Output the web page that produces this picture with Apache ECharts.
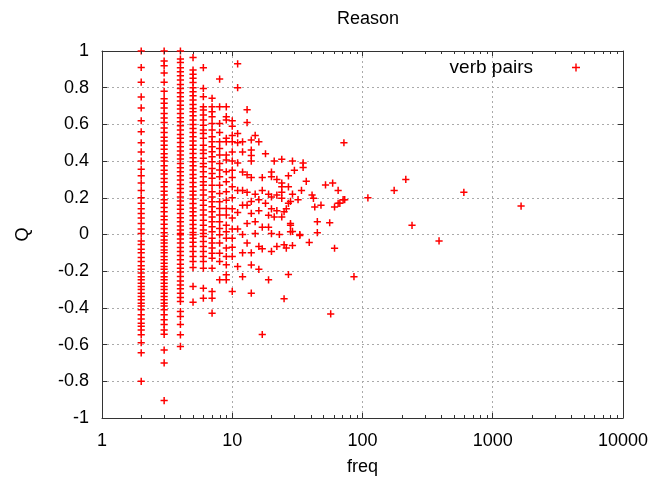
<!DOCTYPE html>
<html>
<head>
<meta charset="utf-8">
<script src="https://cdn.jsdelivr.net/npm/echarts@6/dist/echarts.min.js"></script>
<style>html,body{margin:0;padding:0;background:#fff}#chart{width:653px;height:485px}</style>
</head>
<body>
<div id="chart"></div>
<script>
// Q values for the low-frequency columns (freq = 2..10)
const q2 = [1.0,0.91,0.83,0.75,0.69,0.62,0.56,0.50,0.45,0.40,0.355,0.32,0.28,0.24,0.20,0.17,0.14,0.115,0.09,0.06,0.03,0.005,-0.035,-0.055,-0.08,-0.10,-0.125,-0.147,-0.17,-0.19,-0.21,-0.23,-0.247,-0.265,-0.283,-0.30,-0.32,-0.338,-0.356,-0.374,-0.39,-0.41,-0.438,-0.46,-0.483,-0.50,-0.52,-0.547,-0.59,-0.645,-0.80];
const q3 = [1.0,0.945,0.92,0.88,0.83,0.78,0.74,0.715,0.69,0.66,0.635,0.61,0.58,0.556,0.53,0.51,0.487,0.465,0.44,0.42,0.40,0.375,0.35,0.33,0.305,0.285,0.26,0.236,0.215,0.19,0.17,0.147,0.124,0.10,0.08,0.056,0.033,0.01,-0.01,-0.03,-0.047,-0.065,-0.084,-0.10,-0.12,-0.138,-0.156,-0.174,-0.19,-0.21,-0.23,-0.247,-0.265,-0.283,-0.30,-0.32,-0.338,-0.356,-0.374,-0.39,-0.41,-0.438,-0.465,-0.49,-0.52,-0.544,-0.63,-0.70,-0.905];
const q4 = [1.0,0.956,0.938,0.909,0.887,0.865,0.842,0.818,0.796,0.773,0.751,0.727,0.705,0.684,0.66,0.636,0.615,0.593,0.569,0.545,0.524,0.502,0.478,0.455,0.433,0.411,0.387,0.364,0.342,0.32,0.297,0.273,0.251,0.229,0.205,0.182,0.16,0.138,0.115,0.091,0.069,0.047,0.024,0.006,-0.002,-0.024,-0.047,-0.071,-0.093,-0.114,-0.138,-0.162,-0.184,-0.205,-0.229,-0.253,-0.275,-0.296,-0.32,-0.343,-0.365,-0.42,-0.447,-0.49,-0.547,-0.61];
const q5 = [0.964,0.896,0.873,0.851,0.829,0.80,0.778,0.756,0.733,0.709,0.687,0.669,0.647,0.624,0.60,0.578,0.556,0.533,0.509,0.487,0.465,0.442,0.418,0.396,0.374,0.351,0.327,0.306,0.284,0.26,0.236,0.215,0.193,0.169,0.145,0.124,0.102,0.078,0.055,0.033,0.011,-0.002,-0.02,-0.042,-0.065,-0.093,-0.12,-0.147,-0.18,-0.283,-0.369];
const q6 = [0.909,0.796,0.751,0.696,0.678,0.651,0.624,0.596,0.569,0.551,0.524,0.487,0.46,0.442,0.415,0.387,0.369,0.342,0.315,0.287,0.269,0.242,0.215,0.187,0.16,0.133,0.106,0.078,0.051,0.024,0.006,-0.011,-0.038,-0.065,-0.093,-0.12,-0.147,-0.184,-0.293,-0.347];
const q7 = [0.742,0.696,0.669,0.642,0.605,0.569,0.533,0.505,0.478,0.451,0.424,0.396,0.36,0.333,0.306,0.269,0.233,0.205,0.178,0.151,0.124,0.096,0.069,0.042,0.015,-0.02,-0.047,-0.074,-0.102,-0.129,-0.184,-0.311,-0.347,-0.429];
const q8 = [0.847,0.696,0.605,0.556,0.505,0.469,0.433,0.387,0.351,0.315,0.269,0.224,0.178,0.142,0.106,0.069,0.033,-0.002,-0.047,-0.102,-0.147,-0.247];
const q9 = [0.696,0.642,0.624,0.524,0.505,0.433,0.406,0.342,0.287,0.233,0.187,0.142,0.106,0.051,0.015,-0.02,-0.074,-0.12,-0.165,-0.22,-0.247];
const q10 = [0.62,0.59,0.54,0.505,0.45,0.40,0.35,0.31,0.26,0.20,0.14,0.09,0.03,-0.02,-0.07,-0.12,-0.31];

// Scattered higher-frequency points
const scatterFreq = [11,11,13,13,11,12,11,15,14,16,12,14,14,14,11,18,21,24,29,35,35,37,52,59,65,71,72,30,27,24,20,12,13,14,17,20,22,24,27,29,34,41,42,43,48,61,65,67,73,11,12,13,15,17,19,20,22,24,24,27,28,32,26,25,22,20,18,16,14,13,12,11,14,16,19,21,24,28,28,28,33,45,56,45,13,15,17,19,15,20,23,12,11,29,33,39,61,13,16,17,20,22,25,26,29,12,14,11,14,16,12,19,27,14,25,86,57,17,110,175,215,240,387,600,1650];
const scatterQ = [0.93,0.80,0.68,0.61,0.55,0.505,0.50,0.54,0.515,0.505,0.45,0.46,0.43,0.40,0.39,0.44,0.40,0.41,0.40,0.39,0.365,0.29,0.27,0.28,0.24,0.19,0.50,0.35,0.32,0.28,0.34,0.34,0.325,0.31,0.31,0.315,0.30,0.26,0.26,0.22,0.24,0.215,0.197,0.15,0.16,0.15,0.17,0.17,0.19,0.24,0.24,0.23,0.22,0.24,0.22,0.205,0.215,0.23,0.197,0.17,0.18,0.19,0.14,0.124,0.13,0.14,0.17,0.19,0.18,0.16,0.16,0.12,0.115,0.13,0.105,0.096,0.096,0.06,0.05,0.015,0.0,0.07,0.064,0.01,0.06,0.07,0.04,0.04,0.005,0.005,0.0,0.0,0.03,0.017,-0.005,-0.043,-0.075,-0.047,-0.065,-0.078,-0.092,-0.065,-0.056,-0.074,-0.06,-0.10,-0.10,-0.175,-0.166,-0.19,-0.23,-0.247,-0.218,-0.32,-0.35,-0.23,-0.433,-0.545,0.20,0.24,0.30,0.05,-0.035,0.23,0.155];

const xTickLabels = ['1','10','100','1000','10000'];
const minorDecades = [1,10,100,1000];

const columns = [[2,q2],[3,q3],[4,q4],[5,q5],[6,q6],[7,q7],[8,q8],[9,q9],[10,q10]];
const points = [];
columns.forEach(([f, arr]) => arr.forEach(q => points.push([f, q])));
scatterFreq.forEach((f, i) => points.push([f, scatterQ[i]]));

const minorTicks = [];
minorDecades.forEach(d => { for (let k = 2; k <= 9; k++) minorTicks.push([k * d, 0]); });

const FONT = 'Liberation Sans, Arial, sans-serif';
const FS = 18;
const AX = '#333';
const RED = '#ff0000';
const plus = 'path://M-0.18,-1L0.18,-1L0.18,-0.18L1,-0.18L1,0.18L0.18,0.18L0.18,1L-0.18,1L-0.18,0.18L-1,0.18L-1,-0.18L-0.18,-0.18Z';

const chart = echarts.init(document.getElementById('chart'), null, {renderer: 'canvas'});
const baseX = {
  type: 'log', logBase: 10, min: 1, max: 10000,
  axisLine: {show: true, onZero: false, lineStyle: {color: AX, width: 1}},
  axisTick: {show: true, inside: true, length: 5, lineStyle: {color: AX}}
};
const baseY = {
  type: 'value', min: -1, max: 1, interval: 0.2,
  axisLine: {show: true, onZero: false, lineStyle: {color: AX, width: 1}},
  axisTick: {show: true, inside: true, length: 5, lineStyle: {color: AX}}
};
chart.setOption({
  animation: false,
  backgroundColor: '#fff',
  title: {
    text: 'Reason', left: 363, top: 5, textAlign: 'center',
    textStyle: {fontSize: FS, fontWeight: 'normal', color: '#000', fontFamily: FONT}
  },
  legend: {
    data: [{name: 'verb pairs', icon: plus}], right: 73, top: 58, align: 'right', padding: 0,
    itemWidth: 8, itemHeight: 8,
    itemStyle: {color: RED},
    textStyle: {fontSize: 19, color: '#000', fontFamily: FONT, padding: [0, 34, 0, 0]}
  },
  grid: {left: 102, right: 30, top: 51, bottom: 67, containLabel: false},
  xAxis: [
    Object.assign({}, baseX, {
      position: 'bottom',
      axisLabel: {
        color: '#000', fontSize: FS, fontFamily: FONT, margin: 14,
        formatter: v => xTickLabels[Math.round(Math.log10(v))] || ''
      },
      splitLine: {show: true, lineStyle: {color: '#aaa', width: 1, type: [2, 3]}},
      name: 'freq', nameLocation: 'middle', nameGap: 40,
      nameTextStyle: {fontSize: FS, color: '#000', fontFamily: FONT}
    }),
    Object.assign({}, baseX, {
      position: 'top', axisLabel: {show: false}, splitLine: {show: false}
    })
  ],
  yAxis: [
    Object.assign({}, baseY, {
      position: 'left',
      axisLabel: {
        color: '#000', fontSize: FS, fontFamily: FONT, margin: 13,
        formatter: v => String(Number(v.toFixed(1)))
      },
      splitLine: {show: true, lineStyle: {color: '#aaa', width: 1, type: [2, 3]}},
      name: 'Q', nameLocation: 'middle', nameGap: 70, nameRotate: 90,
      nameTextStyle: {fontSize: FS, color: '#000', fontFamily: FONT}
    }),
    Object.assign({}, baseY, {
      position: 'right', axisLabel: {show: false}, splitLine: {show: false}
    })
  ],
  series: [
    {
      name: 'verb pairs', type: 'custom', xAxisIndex: 0, yAxisIndex: 0,
      silent: true, clip: false, z: 3,
      itemStyle: {color: RED},
      encode: {x: 0, y: 1},
      data: points,
      renderItem: (params, api) => {
        const c = api.coord([api.value(0), api.value(1)]);
        const cx = c[0], cy = c[1], h = 3.6;
        return {
          type: 'path',
          shape: {
            pathData: 'M' + (cx - h) + ',' + cy + 'L' + (cx + h) + ',' + cy +
                      'M' + cx + ',' + (cy - h) + 'L' + cx + ',' + (cy + h)
          },
          style: {stroke: RED, lineWidth: 1.5, fill: 'none'}
        };
      }
    },
    {
      name: 'minorTicks', type: 'custom', xAxisIndex: 0, yAxisIndex: 0,
      silent: true, clip: false, z: 4,
      encode: {x: 0, y: 1},
      data: minorTicks,
      renderItem: (params, api) => {
        const v = api.value(0);
        const b = api.coord([v, -1]);
        const t = api.coord([v, 1]);
        const x = Math.round(b[0]) + 0.5;
        return {
          type: 'path',
          shape: {pathData: 'M' + x + ',' + b[1] + 'L' + x + ',' + (b[1] - 3) +
                            'M' + x + ',' + t[1] + 'L' + x + ',' + (t[1] + 3)},
          style: {stroke: AX, lineWidth: 1, fill: 'none'}
        };
      }
    }
  ]
});
</script>
</body>
</html>
